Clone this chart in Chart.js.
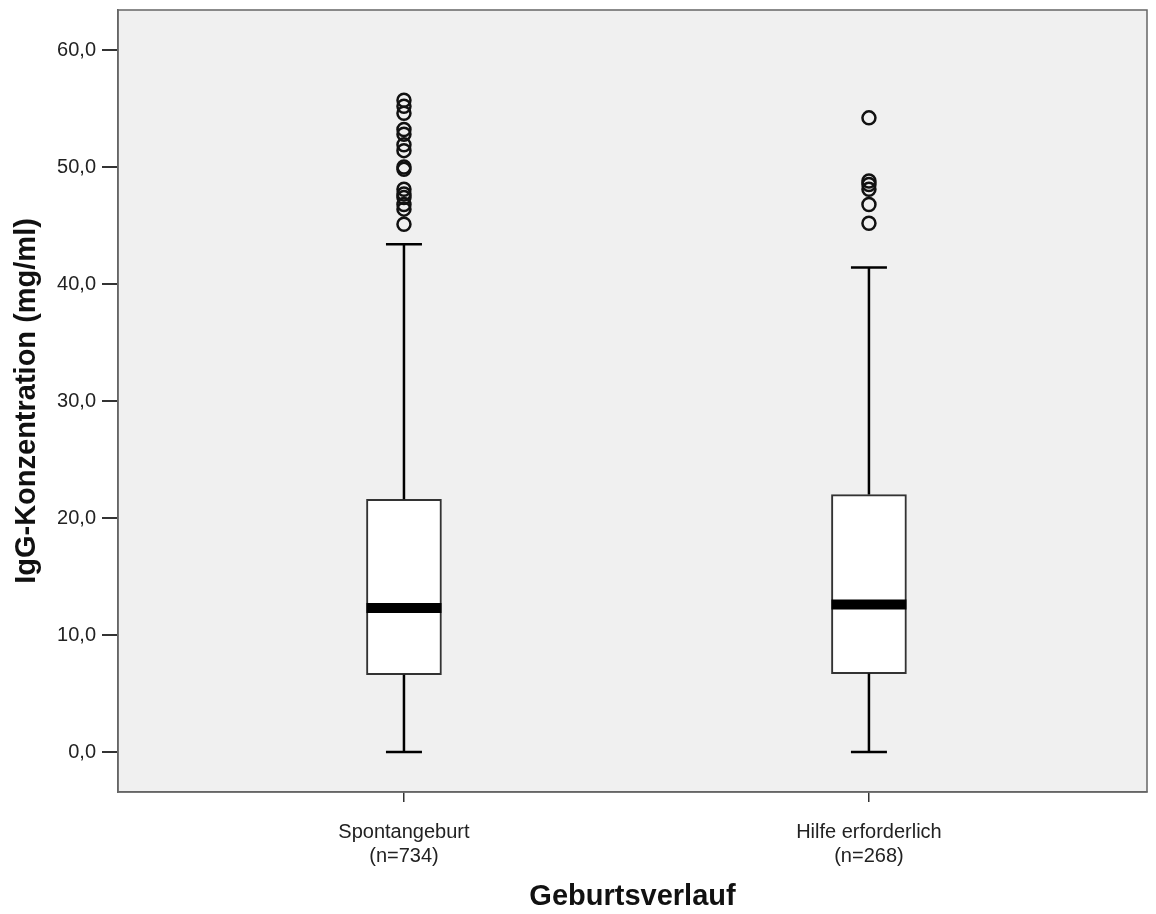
<!DOCTYPE html>
<html lang="de">
<head>
    <meta charset="UTF-8">
    <title>IgG-Konzentration nach Geburtsverlauf</title>
    <script src="https://cdn.jsdelivr.net/npm/chart.js"></script>
    <style>
        html, body {
            margin: 0;
            padding: 0;
            background: #fff;
        }
        .wrap {
            width: 1156px;
            height: 914px;
        }
    </style>
</head>
<body>
    <div class="wrap">
        <canvas id="boxChart" width="1156" height="914"></canvas>
    </div>

    <script>
        // Daten
        const categories = ['Spontangeburt', 'Hilfe erforderlich'];
        const counts = [734, 268];
        const positions = [0, 1];
        const whiskerLow = [0.0, 0.0];
        const q1Vals = [6.6, 6.7];
        const medianVals = [12.3, 12.6];
        const q3Vals = [21.6, 22.0];
        const whiskerHigh = [43.4, 41.4];
        const outliersSpontan = [55.7, 55.2, 54.6, 53.2, 52.8, 51.9, 51.4, 50.0, 49.8, 48.1, 47.7, 47.4, 46.8, 46.4, 45.1];
        const outliersHilfe = [54.2, 48.8, 48.5, 48.1, 46.8, 45.2];
        const yTicks = [0, 10, 20, 30, 40, 50, 60];

        const outlierPoints = [];
        outliersSpontan.forEach(v => outlierPoints.push({ x: positions[0], y: v }));
        outliersHilfe.forEach(v => outlierPoints.push({ x: positions[1], y: v }));

        const fontFamily = '"Liberation Sans", Arial, sans-serif';

        // Hintergrund und Rahmen der Zeichenfläche
        const framePlugin = {
            id: 'frame',
            beforeDraw(chart) {
                const { ctx, chartArea: a } = chart;
                ctx.save();
                ctx.fillStyle = '#f0f0f0';
                ctx.fillRect(a.left, a.top, a.right - a.left, a.bottom - a.top);
                ctx.restore();
            },
            beforeDatasetsDraw(chart) {
                const { ctx, chartArea: a } = chart;
                ctx.save();
                ctx.strokeStyle = '#666';
                ctx.lineWidth = 1.5;
                ctx.strokeRect(a.left, a.top, a.right - a.left, a.bottom - a.top);
                ctx.restore();
            }
        };

        // Whisker und Median über die Skalen zeichnen
        const boxPlugin = {
            id: 'boxParts',
            afterDatasetsDraw(chart) {
                const { ctx } = chart;
                const xs = chart.scales.x;
                const ys = chart.scales.y;
                ctx.save();
                positions.forEach((p, i) => {
                    const cx = xs.getPixelForValue(p);
                    const capHalf = 18;
                    const boxHalf = 37.5;
                    ctx.strokeStyle = '#000';
                    ctx.lineWidth = 2.5;
                    ctx.beginPath();
                    ctx.moveTo(cx, ys.getPixelForValue(q3Vals[i]));
                    ctx.lineTo(cx, ys.getPixelForValue(whiskerHigh[i]));
                    ctx.moveTo(cx - capHalf, ys.getPixelForValue(whiskerHigh[i]));
                    ctx.lineTo(cx + capHalf, ys.getPixelForValue(whiskerHigh[i]));
                    ctx.moveTo(cx, ys.getPixelForValue(q1Vals[i]));
                    ctx.lineTo(cx, ys.getPixelForValue(whiskerLow[i]));
                    ctx.moveTo(cx - capHalf, ys.getPixelForValue(whiskerLow[i]));
                    ctx.lineTo(cx + capHalf, ys.getPixelForValue(whiskerLow[i]));
                    ctx.stroke();

                    ctx.lineWidth = 10;
                    ctx.beginPath();
                    const my = ys.getPixelForValue(medianVals[i]);
                    ctx.moveTo(cx - boxHalf, my);
                    ctx.lineTo(cx + boxHalf, my);
                    ctx.stroke();
                });
                ctx.restore();
            }
        };

        const ctx = document.getElementById('boxChart').getContext('2d');
        new Chart(ctx, {
            type: 'bar',
            data: {
                datasets: [
                    {
                        type: 'bar',
                        label: 'Box',
                        data: positions.map((p, i) => ({ x: p, y: [q1Vals[i], q3Vals[i]] })),
                        backgroundColor: '#ffffff',
                        borderColor: '#333333',
                        borderWidth: 2,
                        borderSkipped: false,
                        barThickness: 75,
                        order: 2
                    },
                    {
                        type: 'scatter',
                        label: 'Ausreißer',
                        data: outlierPoints,
                        pointRadius: 6.5,
                        pointBorderWidth: 2.5,
                        pointBorderColor: '#111',
                        pointBackgroundColor: 'rgba(0,0,0,0)',
                        pointHoverRadius: 6.5,
                        order: 1
                    }
                ]
            },
            options: {
                responsive: false,
                animation: false,
                layout: { padding: { top: 10, right: 4, left: 0, bottom: 0 } },
                plugins: {
                    legend: { display: false },
                    tooltip: { enabled: false }
                },
                scales: {
                    x: {
                        type: 'linear',
                        offset: false,
                        min: -0.615,
                        max: 1.598,
                        afterBuildTicks: axis => {
                            axis.ticks = positions.map(v => ({ value: v }));
                        },
                        afterFit: axis => {
                            axis.height = 122;
                            axis.paddingLeft = 0;
                            axis.paddingRight = 0;
                        },
                        ticks: {
                            autoSkip: false,
                            maxRotation: 0,
                            padding: 18,
                            color: '#222',
                            font: { family: fontFamily, size: 20 },
                            callback: (value) => {
                                const i = positions.indexOf(value);
                                return i < 0 ? '' : [categories[i], '(n=' + counts[i] + ')'];
                            }
                        },
                        grid: {
                            offset: false,
                            drawOnChartArea: false,
                            drawTicks: true,
                            tickLength: 10,
                            color: '#333',
                            lineWidth: 1.5
                        },
                        border: { display: true, color: '#666', width: 1.5 },
                        title: {
                            display: true,
                            text: 'Geburtsverlauf',
                            color: '#111',
                            padding: { top: 0, bottom: 0 },
                            font: { family: fontFamily, size: 29, weight: 'bold' }
                        }
                    },
                    y: {
                        type: 'linear',
                        min: -3.42,
                        max: 63.42,
                        afterBuildTicks: axis => {
                            axis.ticks = yTicks.map(v => ({ value: v }));
                        },
                        afterFit: axis => {
                            axis.width = 118;
                            axis.paddingTop = 0;
                            axis.paddingBottom = 0;
                        },
                        ticks: {
                            padding: 6,
                            color: '#222',
                            font: { family: fontFamily, size: 20 },
                            callback: value => value.toFixed(1).replace('.', ',')
                        },
                        grid: {
                            drawOnChartArea: false,
                            drawTicks: true,
                            tickLength: 16,
                            color: '#333',
                            lineWidth: 2
                        },
                        border: { display: true, color: '#666', width: 1.5 },
                        title: {
                            display: true,
                            text: 'IgG-Konzentration (mg/ml)',
                            color: '#111',
                            padding: { top: 10, bottom: 0 },
                            font: { family: fontFamily, size: 29, weight: 'bold' }
                        }
                    }
                }
            },
            plugins: [framePlugin, boxPlugin]
        });
    </script>
</body>
</html>
